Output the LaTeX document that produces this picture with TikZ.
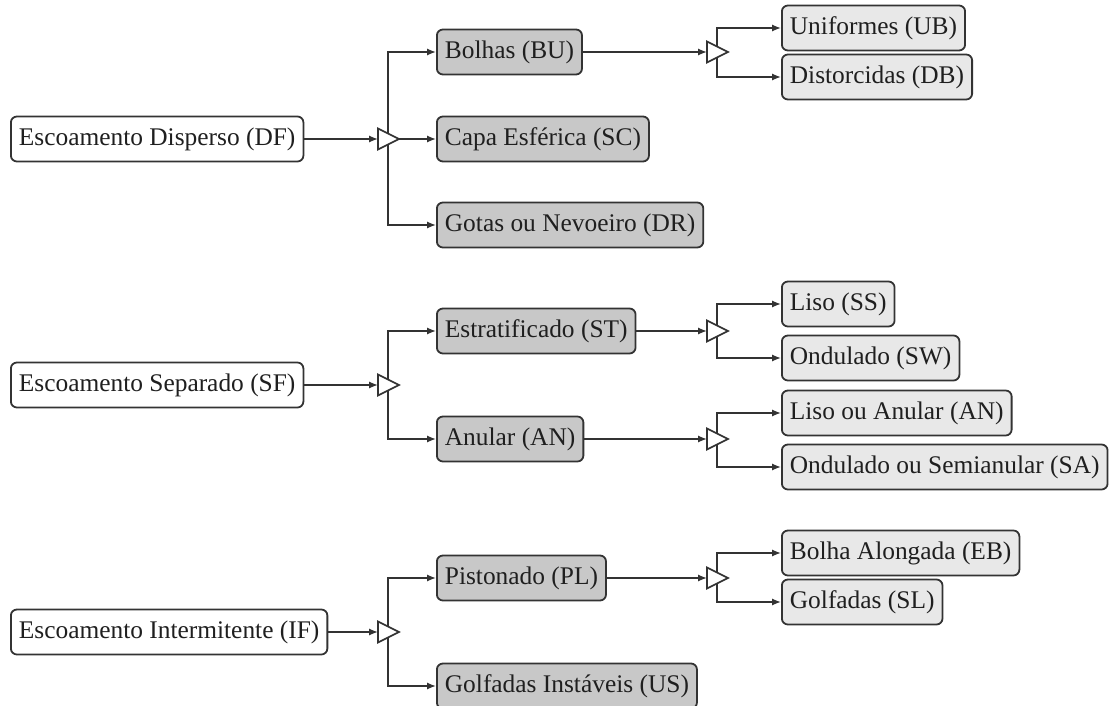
\documentclass[tikz,border=0pt]{standalone}
\usepackage{fontspec}
\setmainfont{Liberation Serif}
\usetikzlibrary{arrows.meta, calc}

\definecolor{boxline}{HTML}{333333}
\definecolor{fillmid}{HTML}{C8C8C8}
\definecolor{filllow}{HTML}{E8E8E8}

\begin{document}
\begin{tikzpicture}[x=0.5pt, y=-0.5pt,
		every node/.style={font=\fontsize{12.7}{15}\selectfont, text=black!88},
		flow/.style={draw=boxline, line width=0.9pt, rounded corners=3pt, anchor=west, inner xsep=4pt, inner ysep=0pt, minimum height=22.5pt},
		main/.style={flow, fill=white},
		sub/.style={flow, fill=fillmid},
		leaf/.style={flow, fill=filllow},
		link/.style={line width=0.8pt, draw=boxline},
		feed/.style={link, -{Latex[length=4.5pt, width=3.6pt]}},
		junc/.pic={
			\filldraw[link, fill=white] (-10,-10.5) -- (11,0) -- (-10,10.5) -- cycle;
			\coordinate (-in) at (-10,0);
			\coordinate (-out) at (11,0);
		}]
		\useasboundingbox (0,0) rectangle (1115,706);
		
		% escoamento disperso
		\node[main] (DF) at (10,139) {Escoamento Disperso (DF)};
		\node[sub] (BU) at (436,52) {Bolhas (BU)};
		\node[sub] (SC) at (436,139) {Capa Esférica (SC)};
		\node[sub] (DR) at (436,225) {Gotas ou Nevoeiro (DR)};
		\node[leaf] (UB) at (781,28) {Uniformes (UB)};
		\node[leaf] (DB) at (781,77) {Distorcidas (DB)};
		
		% escoamento separado
		\node[main] (SF) at (10,385) {Escoamento Separado (SF)};
		\node[sub] (ST) at (436,331) {Estratificado (ST)};
		\node[sub] (AN) at (436,439) {Anular (AN)};
		\node[leaf] (SS) at (781,304) {Liso (SS)};
		\node[leaf] (SW) at (781,358) {Ondulado (SW)};
		\node[leaf] (LA) at (781,413) {Liso ou Anular (AN)};
		\node[leaf] (SA) at (781,467) {Ondulado ou Semianular (SA)};
		
		% escoamento intermitente
		\node[main] (IF) at (10,632) {Escoamento Intermitente (IF)};
		\node[sub] (PL) at (436,578) {Pistonado (PL)};
		\node[sub] (US) at (436,686) {Golfadas Instáveis (US)};
		\node[leaf] (EB) at (781,553) {Bolha Alongada (EB)};
		\node[leaf] (SL) at (781,602) {Golfadas (SL)};
		
		\coordinate (j1) at (388,139);
		\coordinate (j2) at (717,52);
		\coordinate (j3) at (388,385);
		\coordinate (j4) at (717,331);
		\coordinate (j5) at (717,439);
		\coordinate (j6) at (388,632);
		\coordinate (j7) at (717,578);
		
		% ramos
		\draw[feed] (j1) |- (BU.west);
		\draw[feed] (j1) |- (DR.west);
		\draw[feed] (j2) |- (UB.west);
		\draw[feed] (j2) |- (DB.west);
		\draw[feed] (j3) |- (ST.west);
		\draw[feed] (j3) |- (AN.west);
		\draw[feed] (j4) |- (SS.west);
		\draw[feed] (j4) |- (SW.west);
		\draw[feed] (j5) |- (LA.west);
		\draw[feed] (j5) |- (SA.west);
		\draw[feed] (j6) |- (PL.west);
		\draw[feed] (j6) |- (US.west);
		\draw[feed] (j7) |- (EB.west);
		\draw[feed] (j7) |- (SL.west);
		
		\foreach \j in {j1, j2, j3, j4, j5, j6, j7}
			\pic (\j) at (\j) {junc};
		
		\draw[feed] (DF) -- (j1-in);
		\draw[feed] (j1-out) -- (SC.west);
		\draw[feed] (BU) -- (j2-in);
		\draw[feed] (SF) -- (j3-in);
		\draw[feed] (ST) -- (j4-in);
		\draw[feed] (AN) -- (j5-in);
		\draw[feed] (IF) -- (j6-in);
		\draw[feed] (PL) -- (j7-in);
	\end{tikzpicture}
\end{document}
